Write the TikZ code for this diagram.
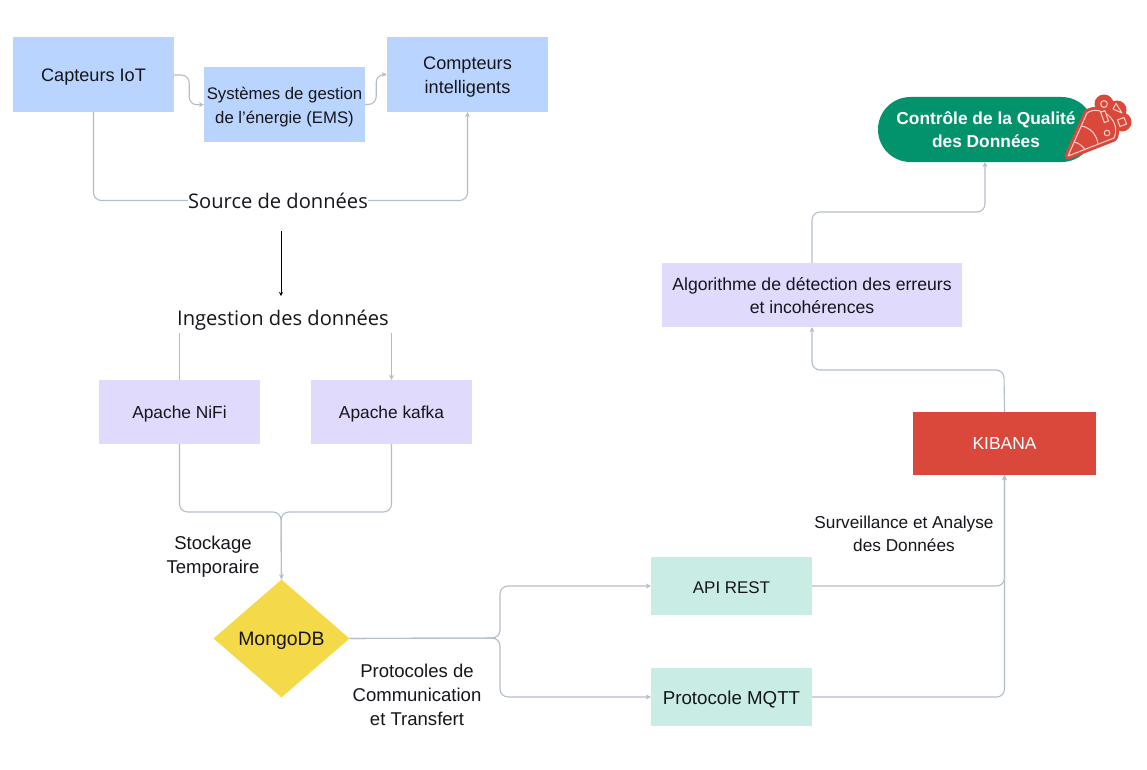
\documentclass[tikz,border=0pt]{standalone}
\usepackage{fontspec}
\setmainfont{Liberation Sans}
\newfontfamily\canvafont{Open Sans}
\usetikzlibrary{shapes.geometric,arrows.meta,calc}
\definecolor{bluebox}{HTML}{B9D4FE}
\definecolor{lilacbox}{HTML}{E0DAFD}
\definecolor{mintbox}{HTML}{C9EDE4}
\definecolor{yellowbox}{HTML}{F4D949}
\definecolor{redbox}{HTML}{D9483B}
\definecolor{greenbox}{HTML}{02926C}
\definecolor{conn}{HTML}{B3BEC9}
\definecolor{ink}{HTML}{15151C}
\definecolor{pinkline}{HTML}{F8D5CC}
\newcommand\dn[1]{\rule{0pt}{#1bp}}
\tikzset{
  x=1bp,y=-1bp,
  box/.style={rectangle,inner sep=0pt,align=center,text=ink,font=\fontsize{18.2}{24}\selectfont},
  bluenode/.style={box,fill=bluebox},
  lilacnode/.style={box,fill=lilacbox,font=\fontsize{17.4}{24}\selectfont},
  mintnode/.style={box,fill=mintbox},
  plain/.style={inner sep=0pt,align=center,text=ink,font=\fontsize{18.6}{24}\selectfont},
  heading/.style={inner sep=0pt,text=ink,font=\canvafont\fontsize{20.2}{24}\selectfont},
  conline/.style={draw=conn,line width=1.1pt,rounded corners=8pt},
  conarrow/.style={conline,-{Stealth[length=5pt,width=5pt]}},
}
\begin{document}
\begin{tikzpicture}
\useasboundingbox (0,0) rectangle (1147,770);
\fill[white] (0,0) rectangle (1147,770);
% nodes
\node[bluenode,minimum width=161bp,minimum height=75bp] (capteurs) at (93.5,74.5) {\dn{17.5}Capteurs IoT};
\node[bluenode,minimum width=161bp,minimum height=75bp,font=\fontsize{16.8}{24}\selectfont] (ems) at (284.5,104.5) {\dn{18}Systèmes de gestion\\de l’énergie (EMS)};
\node[bluenode,minimum width=161bp,minimum height=75bp] (compteurs) at (467.5,74.5) {\dn{17}Compteurs\\intelligents};
\node[heading,minimum height=30bp] (source) at (278,200.5) {\dn{17}Source de données};
\node[heading,minimum height=30bp] (ingestion) at (283,317.5) {\dn{21}Ingestion des données};
\node[lilacnode,minimum width=161bp,minimum height=64bp] (nifi) at (179.5,412) {\dn{17}Apache NiFi};
\node[lilacnode,minimum width=161bp,minimum height=64bp] (kafka) at (391.5,412) {\dn{17}Apache kafka};
\node[plain] (stockage) at (213,557) {Stockage\\Temporaire};
\node[diamond,fill=yellowbox,inner sep=0pt,minimum width=136bp,minimum height=118bp,text=ink,font=\fontsize{19.5}{24}\selectfont] (mongo) at (281.5,638.5) {\dn{18}MongoDB};
\node[plain] (protocoles) at (417,695) {Protocoles de\\Communication\\et Transfert};
\node[mintnode,minimum width=161bp,minimum height=58bp,font=\fontsize{17}{24}\selectfont] (api) at (731.5,586) {\dn{14.5}API REST};
\node[mintnode,minimum width=161bp,minimum height=58bp,font=\fontsize{18.8}{24}\selectfont] (mqtt) at (731.5,697) {\dn{18}Protocole MQTT};
\node[plain,font=\fontsize{17.3}{23}\selectfont] (surv) at (904,534) {Surveillance et Analyse\\des Données};
\node[box,fill=redbox,text=white,minimum width=183bp,minimum height=63bp,font=\fontsize{17.5}{24}\selectfont] (kibana) at (1004.5,443.5) {KIBANA};
\node[lilacnode,minimum width=300bp,minimum height=64bp,font=\fontsize{17.7}{23}\selectfont] (algo) at (812,295) {\dn{15}Algorithme de détection des erreurs\\et incohérences};
\node[rectangle,rounded corners=32.5bp,fill=greenbox,inner sep=0pt,minimum width=216bp,minimum height=65bp,text=white,align=center,font=\bfseries\fontsize{17.4}{23}\selectfont] (qualite) at (986,129.5) {Contrôle de la Qualité\\des Données};
% icon
\begin{scope}
  \fill[redbox] (1104,104) circle (9.5) (1117,110) circle (9.5) (1122,122) circle (9.5);
  \fill[redbox,draw=redbox,line width=7pt,line join=round] (1068,156) -- (1087,113) .. controls (1100,104) and (1122,120) .. (1114,138) -- cycle;
  \begin{scope}[pinkline,line width=1pt,line join=round]
    \draw (1068,156) -- (1087,113) .. controls (1100,104) and (1122,120) .. (1114,138) -- cycle;
    \draw (1081,126) .. controls (1090,127) and (1097,135) .. (1098,144);
    \draw (1074,142) .. controls (1079,143) and (1084,147) .. (1085,150);
    \fill[redbox,draw=pinkline,rotate around={20:(1105,117)}] (1102.5,111) rectangle (1107,122);
    \draw (1107,133) circle (2.8);
    \draw (1104,104) circle (3.4);
    \draw (1113,109) -- (1122,113) -- (1116,103.5) -- cycle;
    \draw[rotate around={20:(1122,122)}] (1118.5,118.5) rectangle (1125.5,125.5);
  \end{scope}
\end{scope}
% connectors
\draw[conarrow] (capteurs.east |- 0,75) -- ++(15,0) -- ++(0,30) -- (ems.west);
\draw[conarrow] (ems.east) -- ++(11,0) -- ++(0,-30) -- (compteurs.west);
\draw[conline] (capteurs.south) |- (source.west);
\draw[conarrow] (source.east) -| (compteurs.south);
\coordinate (blacktop) at (281,231);
\coordinate (blackend) at (281,296);
\draw[black,line width=0.8pt,-{Stealth[length=4pt,width=4pt]}] (blacktop) -- (blackend);
\draw[conline] (ingestion.south -| nifi.north) -- (nifi.north);
\draw[conarrow] (ingestion.south -| kafka.north) -- (kafka.north);
\coordinate (merge) at (281,512);
\draw[conline] (nifi.south) |- (merge) -- (mongo.north);
\draw[conarrow] (kafka.south) |- (merge) -- (mongo.north);
\coordinate (fork) at (500,638);
\draw[conarrow] (mongo.east) -- (fork) |- (api.west);
\draw[conarrow] (mongo.east) -- (fork) |- (mqtt.west);
\draw[conarrow] (api.east) -| (kibana.south);
\draw[conarrow] (mqtt.east) -| (kibana.south);
\coordinate (k1) at (1004,370);
\draw[conarrow] (kibana.north) -- (k1) -| (algo.south);
\coordinate (a1) at (812,212);
\draw[conarrow] (algo.north) -- (a1) -| (qualite.south -| 985,162);
\end{tikzpicture}
\end{document}
